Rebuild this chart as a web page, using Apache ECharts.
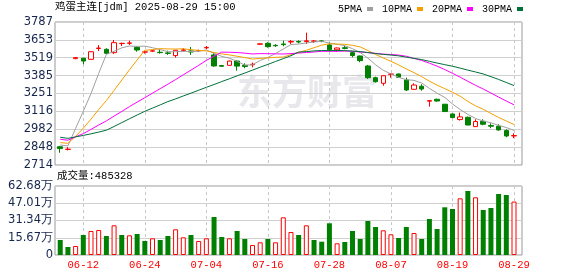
<!DOCTYPE html>
<html><head><meta charset="utf-8">
<script src="https://cdn.jsdelivr.net/npm/echarts@6/dist/echarts.min.js"></script>
<style>html,body{margin:0;padding:0;background:#fff}#c{width:578px;height:276px}</style>
</head><body><div id="c"></div>
<script>
const dates = ['06-09','06-10','06-11','06-12','06-13','06-16','06-17','06-18','06-19','06-20','06-23','06-24','06-25','06-26','06-27','06-30',
'07-01','07-02','07-03','07-04','07-07','07-08','07-09','07-10','07-11','07-14','07-15','07-16','07-17','07-18','07-21','07-22','07-23','07-24','07-25','07-28','07-29','07-30','07-31',
'08-01','08-04','08-05','08-06','08-07','08-08','08-11','08-12','08-13','08-14','08-15','08-18','08-19','08-20','08-21','08-22','08-25','08-26','08-27','08-28','08-29'];
const open = [2851,2831,3512,3515,3507,3588,3582,3557,3625,3627,3597,3561,3568,3560,3555,3535,3574,3570,3570,3593,3540,3460,3462,3494,3462,3466,3620,3627,3612,3622,3637,3641,3640,3642,3645,3615,3578,3594,3557,3532,3457,3369,3327,3394,3397,3352,3282,3305,3193,3207,3170,3097,3055,3072,3002,3042,3010,3005,2972,2932];
const close = [2837,2833,3520,3494,3564,3592,3552,3632,3627,3630,3577,3563,3571,3557,3552,3575,3578,3562,3573,3596,3457,3455,3494,3456,3453,3470,3623,3602,3609,3617,3641,3637,3646,3644,3642,3578,3592,3589,3535,3497,3369,3339,3384,3397,3372,3277,3314,3284,3197,3194,3115,3070,3075,3014,3040,3020,3005,2977,2932,2935];
const low = [2806,2823,3508,3470,3505,3569,3545,3547,3607,3615,3564,3550,3562,3550,3540,3520,3565,3540,3565,3582,3452,3450,3460,3422,3440,3447,3617,3595,3600,3605,3622,3627,3622,3630,3635,3565,3562,3582,3522,3485,3360,3332,3309,3369,3367,3269,3280,3272,3152,3190,3112,3065,3047,3012,3000,3012,2990,2972,2922,2915];
const high = [2857,2848,3524,3518,3569,3614,3590,3652,3632,3647,3607,3572,3578,3580,3572,3578,3590,3600,3580,3607,3552,3465,3497,3502,3477,3482,3627,3635,3620,3647,3652,3650,3707,3652,3652,3632,3595,3610,3565,3535,3465,3377,3387,3402,3400,3370,3327,3320,3202,3212,3172,3100,3107,3077,3057,3057,3027,3020,2982,2952];
const volume = [136260,72670,81756,181680,218016,227100,172596,269795,181680,178955,190764,127176,151703,136260,172596,233459,160787,181680,127176,151703,345192,163512,151703,218016,145344,90840,115367,145344,115367,342467,208932,181680,269795,136260,120817,287963,106283,118092,218016,145344,308856,254352,224375,188039,154428,254352,199848,145344,327024,236184,433307,417864,515063,581376,524147,408780,426948,554124,545040,485328];
const ma5 = [2864,2857,2989,3117,3250,3401,3544,3567,3593,3607,3604,3606,3594,3580,3564,3564,3567,3565,3568,3577,3553,3529,3515,3492,3463,3466,3499,3521,3551,3584,3618,3621,3630,3637,3642,3629,3620,3609,3587,3558,3516,3466,3425,3397,3372,3354,3349,3329,3289,3253,3221,3172,3130,3094,3063,3044,3031,3011,2995,2974];
const ma10 = [2882,2877,2929,2990,3058,3130,3198,3274,3351,3428,3502,3575,3580,3587,3585,3584,3586,3579,3574,3570,3558,3548,3540,3530,3520,3509,3514,3518,3522,3524,3542,3560,3575,3594,3613,3624,3621,3620,3612,3600,3573,3543,3517,3492,3465,3435,3407,3377,3343,3313,3287,3260,3230,3191,3158,3132,3101,3071,3044,3018];
const ma20 = [2907,2900,2925,2950,2981,3014,3045,3081,3116,3152,3186,3219,3253,3287,3320,3355,3391,3426,3462,3499,3530,3561,3560,3558,3553,3547,3550,3549,3548,3547,3550,3554,3558,3562,3567,3567,3567,3569,3567,3562,3557,3552,3546,3543,3539,3530,3514,3498,3478,3456,3430,3402,3373,3342,3312,3284,3254,3224,3194,3166];
const ma30 = [2922,2914,2925,2936,2948,2961,2975,3003,3032,3061,3089,3117,3141,3165,3190,3210,3232,3253,3275,3297,3318,3340,3361,3383,3404,3426,3448,3469,3491,3512,3534,3561,3565,3570,3573,3572,3574,3572,3569,3565,3558,3550,3544,3539,3533,3523,3514,3505,3492,3479,3467,3455,3441,3426,3412,3397,3377,3356,3333,3310];
const priceTicks = [2714,2848,2982,3116,3251,3385,3519,3653,3787];
const volTicks = [0,156700,313400,470100,626800];
const dateTicks = ['06-12','06-24','07-04','07-16','07-28','08-07','08-19','08-29'];
const maNames = ['5PMA','10PMA','20PMA','30PMA'];

const dateIdx = dateTicks.map(d => dates.indexOf(d));
const up = close.map((c,i) => i === 0 ? c >= open[i] : c >= close[i-1]);
const RED = '#ff0000', GREEN = '#008000';
const maColors = ['#a0a0a0','#f5a000','#ff00ff','#00703a'];
const monoFont = "'Liberation Mono','Noto Sans CJK SC',monospace";
const labFont = "'DejaVu Sans',sans-serif";

function xAx(grid, showLabel){
  return {type:'value', gridIndex:grid, min:-0.68, max:60.04,
    axisLine:{show:false},
    axisTick:{show:false, customValues: dateIdx},
    axisLabel:{show:showLabel, customValues: dateIdx, formatter: v => dates[Math.round(v)],
      color:RED, fontFamily:monoFont, fontSize:10.5, margin:5},
    splitLine:{show:true, lineStyle:{color:'#c8c8c8', type:[3,3], width:1}}};
}

const chart = echarts.init(document.getElementById('c'), null, {renderer:'canvas'});
chart.setOption({
  animation:false,
  backgroundColor:'#fff',
  title:[
    {text:'鸡蛋主连[jdm] 2025-08-29 15:00', left:55, top:2, padding:0,
     textStyle:{fontSize:10.5, fontWeight:'normal', color:'#000', fontFamily:monoFont}},
    {text:'成交量:' + volume[volume.length-1], left:57, top:171, padding:0,
     textStyle:{fontSize:10.5, fontWeight:'normal', color:'#000', fontFamily:monoFont}}
  ],
  legend:{data:maNames, left:338, top:4, padding:0, align:'right', itemWidth:6, itemHeight:4,
    itemGap:9, icon:'rect', textStyle:{fontSize:10, color:'#000', fontFamily:monoFont, padding:[0,0,0,0]}},
  graphic:[{type:'text', left:237, top:74, z:0, silent:true,
    style:{text:'东方财富', font:"bold 35px 'Noto Sans CJK SC'", fill:'#e8e8ec'}}],
  grid:[
    {left:55, top:22, width:467, height:143, show:true, borderColor:'#999', borderWidth:1},
    {left:55, top:186, width:467, height:69, show:true, borderColor:'#999', borderWidth:1}
  ],
  xAxis:[xAx(0,false), xAx(1,true)],
  yAxis:[
    {type:'value', gridIndex:0, min:2714, max:3787,
     axisLine:{show:false}, axisTick:{show:false, customValues:priceTicks},
     axisLabel:{customValues:priceTicks, formatter: v => String(v), color:'#17264d', fontSize:11.5, fontFamily:labFont, margin:2},
     splitLine:{show:true, lineStyle:{color:'#d0d0d0', width:1}}},
    {type:'value', gridIndex:1, min:0, max:626800,
     axisLine:{show:false}, axisTick:{show:false, customValues:volTicks},
     axisLabel:{customValues:volTicks, formatter: v => v === 0 ? '0' : (v/10000).toFixed(2) + '万',
       color:'#17264d', fontSize:11.5, fontFamily:labFont, margin:2},
     splitLine:{show:true, lineStyle:{color:'#d0d0d0', width:1}}}
  ],
  series:[
    {type:'candlestick', name:'K', xAxisIndex:0, yAxisIndex:0, barWidth:5, z:3,
     data: dates.map((d,i) => [i, open[i], close[i], low[i], high[i]]),
     itemStyle:{color:'#fff', color0:GREEN, borderColor:RED, borderColor0:GREEN, borderWidth:1}},
    ...[ma5,ma10,ma20,ma30].map((arr,k) => ({
      type:'line', name:maNames[k], xAxisIndex:0, yAxisIndex:0, showSymbol:false, symbol:'none', z:4,
      data: arr.map((v,i) => [i,v]), color:maColors[k], lineStyle:{width:1, color:maColors[k]}
    })),
    {type:'bar', name:'volUp', xAxisIndex:1, yAxisIndex:1, barWidth:5, barGap:'-100%',
     data: volume.map((v,i) => up[i] ? [i,v] : [i,null]),
     itemStyle:{color:'#fff', borderColor:RED, borderWidth:1}},
    {type:'bar', name:'volDown', xAxisIndex:1, yAxisIndex:1, barWidth:5, barGap:'-100%',
     data: volume.map((v,i) => up[i] ? [i,null] : [i,v]),
     itemStyle:{color:GREEN}}
  ]
});
</script></body></html>
